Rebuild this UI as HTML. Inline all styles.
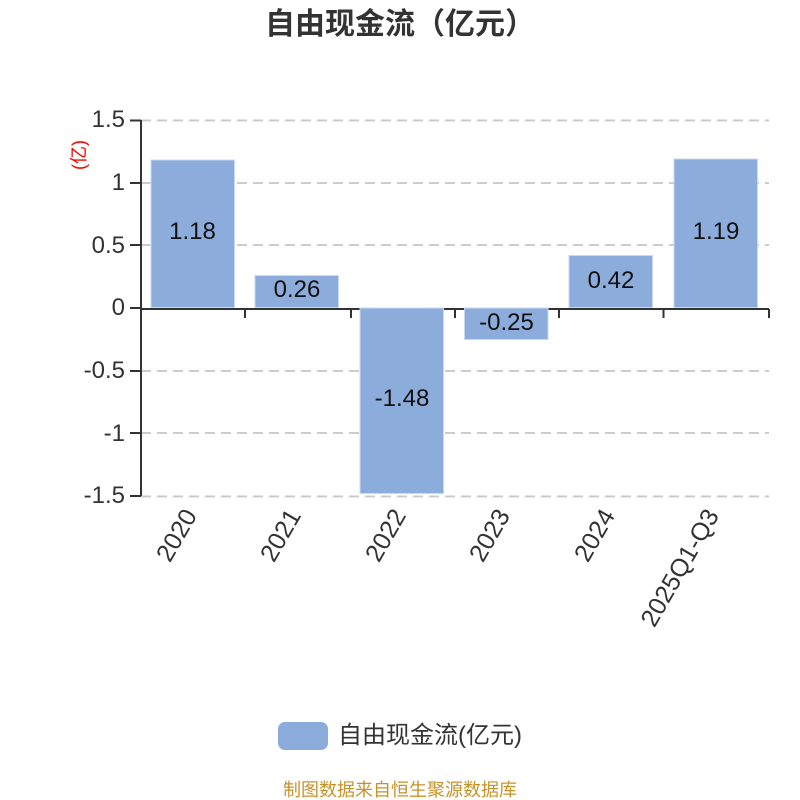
<!DOCTYPE html>
<html lang="zh">
<head>
<meta charset="utf-8">
<title>自由现金流（亿元）</title>
<style>
html,body{margin:0;padding:0;background:#fff;width:800px;height:800px;overflow:hidden}
svg{display:block}
text{font-family:"Liberation Sans","Noto Sans CJK SC",sans-serif}
</style>
</head>
<body>
<svg width="800" height="800" viewBox="0 0 800 800" xmlns="http://www.w3.org/2000/svg">
<rect width="800" height="800" fill="#fff"/>
<text x="400" y="34" font-size="30" font-weight="700" fill="#333" text-anchor="middle">自由现金流（亿元）</text>

<g stroke="#ccc" stroke-width="2" stroke-dasharray="10 6" fill="none">
<path d="M141 120.500H769"/><path d="M141 183H769"/><path d="M141 245H769"/>
<path d="M141 371H769"/><path d="M141 433H769"/><path d="M141 496.500H769"/>
</g>

<g stroke="#333" stroke-width="2" fill="none">
<path d="M141 120V496"/>
<path d="M130 120.500H141M130 183H141M130 245H141M130 308H141M130 371H141M130 433H141M130 496H141"/>
<path d="M141 309H769"/>
<path d="M141 309V320M245 309V318M351 309V318M455 309V318M559 309V318M663.500 309V318M769 309V318"/>
</g>

<g fill="#8cacdb" stroke="#c8d8f0" stroke-width="1">
<rect x="151" y="160" width="83.500" height="147.500"/>
<rect x="255" y="275.500" width="83.500" height="32"/>
<rect x="360" y="308" width="83.500" height="185.500"/>
<rect x="464.500" y="308" width="83.500" height="31.500"/>
<rect x="569" y="255.500" width="83.500" height="52"/>
<rect x="674" y="159" width="83.500" height="148.500"/>
</g>

<g font-size="24" fill="#333" text-anchor="end">
<text x="125" y="127">1.5</text>
<text x="125" y="190">1</text>
<text x="125" y="253">0.5</text>
<text x="125" y="315">0</text>
<text x="125" y="378">-0.5</text>
<text x="125" y="441">-1</text>
<text x="125" y="503">-1.5</text>
</g>

<text transform="translate(85 155) rotate(-90)" font-size="18" fill="#f00" text-anchor="middle">(亿)</text>

<g font-size="24" fill="#111" text-anchor="middle">
<text x="192.500" y="239">1.18</text>
<text x="297" y="297">0.26</text>
<text x="402" y="406">-1.48</text>
<text x="506.500" y="330">-0.25</text>
<text x="611" y="288">0.42</text>
<text x="716" y="239">1.19</text>
</g>

<g font-size="25" fill="#333" text-anchor="end">
<text transform="translate(192 512) rotate(-60)" dominant-baseline="middle">2020</text>
<text transform="translate(296 512) rotate(-60)" dominant-baseline="middle">2021</text>
<text transform="translate(401 512) rotate(-60)" dominant-baseline="middle">2022</text>
<text transform="translate(505 512) rotate(-60)" dominant-baseline="middle">2023</text>
<text transform="translate(610 512) rotate(-60)" dominant-baseline="middle">2024</text>
<text transform="translate(714 512) rotate(-60)" dominant-baseline="middle">2025Q1-Q3</text>
</g>

<rect x="278" y="722" width="50" height="28" rx="7" ry="7" fill="#8cacdb"/>
<text x="338" y="743" font-size="24" fill="#333">自由现金流(亿元)</text>
<text x="400" y="796" font-size="18" fill="#c8922a" text-anchor="middle">制图数据来自恒生聚源数据库</text>
</svg>
</body>
</html>
